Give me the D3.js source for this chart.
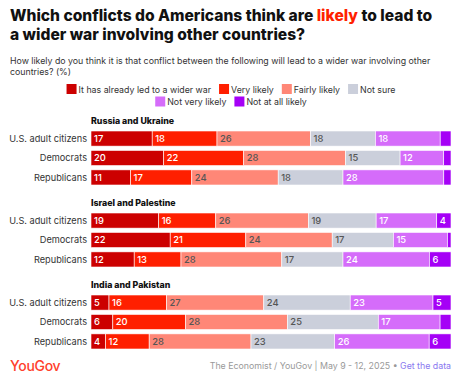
<!DOCTYPE html>
<html>
<head>
<meta charset="utf-8">
<script src="https://cdn.jsdelivr.net/npm/d3@7"></script>
<style>
  body { margin: 0; background: #fff; }
  svg { display: block; font-family: Inter, "Noto Sans", sans-serif; }
</style>
</head>
<body>
<svg id="chart" width="459" height="385"></svg>
<script>
// answer options
var categories = ["It has already led to a wider war", "Very likely", "Fairly likely", "Not sure", "Not very likely", "Not at all likely"];
var colors = ["#cc0000", "#ff1f00", "#ff8777", "#cbcfdb", "#d56cfa", "#a500f6"];
var labelColors = ["#fff", "#fff", "#555", "#555", "#fff", "#fff"];

var groups = ["U.S. adult citizens", "Democrats", "Republicans"];
var conflicts = ["Russia and Ukraine", "Israel and Palestine", "India and Pakistan"];

// one array per conflict, one row per group
var russiaUkraine = [
  [17, 18, 26, 18, 18, 3],
  [20, 22, 28, 15, 12, 2],
  [11, 17, 24, 18, 28, 2]
];
var israelPalestine = [
  [19, 16, 26, 19, 17, 4],
  [22, 21, 24, 17, 15, 1],
  [12, 13, 28, 17, 24, 6]
];
var indiaPakistan = [
  [5, 16, 27, 24, 23, 5],
  [6, 20, 28, 25, 17, 3],
  [4, 12, 28, 23, 26, 6]
];
var sections = [russiaUkraine, israelPalestine, indiaPakistan];

var svg = d3.select("#chart");

// title
var title = svg.append("text").attr("x", 10).attr("y", 21)
  .style("font-size", "15.6px").style("font-weight", 800).attr("fill", "#111");
title.append("tspan").text("Which conflicts do Americans think are ");
title.append("tspan").attr("fill", "#ff1f00").text("likely");
title.append("tspan").text(" to lead to");
svg.append("text").attr("x", 10).attr("y", 40)
  .style("font-size", "15.6px").style("font-weight", 800).attr("fill", "#111")
  .text("a wider war involving other countries?");

svg.append("text").attr("x", 10).attr("y", 64).style("font-size", "8.8px").attr("fill", "#333")
  .text("How likely do you think it is that conflict between the following will lead to a wider war involving other");
svg.append("text").attr("x", 10).attr("y", 75).style("font-size", "8.8px").attr("fill", "#333")
  .text("countries? (%)");

// legend, two centred rows
var legendRows = [[0, 1, 2, 3], [4, 5]];
legendRows.forEach(function(row, r) {
  var g = svg.append("g");
  var xx = 0;
  row.forEach(function(ci) {
    g.append("rect").attr("x", xx).attr("y", 84 + r * 12.5).attr("width", 10).attr("height", 10)
      .attr("fill", colors[ci]);
    var t = g.append("text").attr("x", xx + 12).attr("y", 92.5 + r * 12.5)
      .style("font-size", "8.8px").attr("fill", "#333").text(categories[ci]);
    xx += 12 + t.node().getComputedTextLength() + 8;
  });
  var w = xx - 8;
  g.attr("transform", "translate(" + (231 - w / 2) + ",0)");
});

var x = d3.scaleLinear().domain([0, 100]).range([91, 451]);
var sectionTop = [131, 213, 295];
var y = d3.scaleBand().domain(groups).range([0, 54]).paddingInner(4 / 18).paddingOuter(0);

sections.forEach(function(data, s) {
  var g = svg.append("g").attr("transform", "translate(0," + sectionTop[s] + ")");
  g.append("text").attr("x", 91).attr("y", -7).style("font-size", "8.8px").style("font-weight", 800)
    .attr("fill", "#111").text(conflicts[s]);

  var rows = g.selectAll("g.row").data(data).enter().append("g").attr("class", "row")
    .attr("transform", function(d, i) { return "translate(0," + y(groups[i]) + ")"; });

  rows.append("text").attr("x", 87).attr("y", y.bandwidth() / 2).attr("dy", "0.35em")
    .attr("text-anchor", "end").style("font-size", "9.2px").attr("fill", "#333")
    .text(function(d, i) { return groups[i]; });

  rows.each(function(vals) {
    // shares are drawn relative to the row total so every bar fills the width
    var total = d3.sum(vals);
    var stacked = [];
    var acc = 0;
    vals.forEach(function(v, k) {
      stacked.push({ k: k, v: v, x0: acc / total * 100, x1: (acc + v) / total * 100 });
      acc += v;
    });
    var seg = d3.select(this).selectAll("g.seg").data(stacked).enter().append("g").attr("class", "seg");
    seg.append("rect")
      .attr("x", function(d) { return x(d.x0); })
      .attr("width", function(d) { return x(d.x1) - x(d.x0); })
      .attr("y", 0).attr("height", y.bandwidth())
      .attr("fill", function(d) { return colors[d.k]; })
      .attr("stroke", "#fff").attr("stroke-width", 0.6);
    seg.filter(function(d) { return d.v >= 4; }).append("text")
      .attr("x", function(d) { return x(d.x0) + 3; })
      .attr("y", y.bandwidth() / 2).attr("dy", "0.36em")
      .style("font-size", "9.4px").style("font-weight", 500)
      .attr("fill", function(d) { return labelColors[d.k]; })
      .text(function(d) { return d.v; });
  });
});

// footer
svg.append("text").attr("x", 10).attr("y", 371).style("font-size", "14px").style("font-weight", 500)
  .attr("fill", "#ff412c").style("letter-spacing", "-0.3px").text("YouGov");
var src = svg.append("text").attr("x", 451).attr("y", 369).attr("text-anchor", "end")
  .style("font-size", "8.8px").attr("fill", "#999");
src.append("tspan").text("The Economist / YouGov | May 9 - 12, 2025 \u2022 ");
src.append("tspan").attr("fill", "#8a78f0").text("Get the data");
</script>
</body>
</html>
